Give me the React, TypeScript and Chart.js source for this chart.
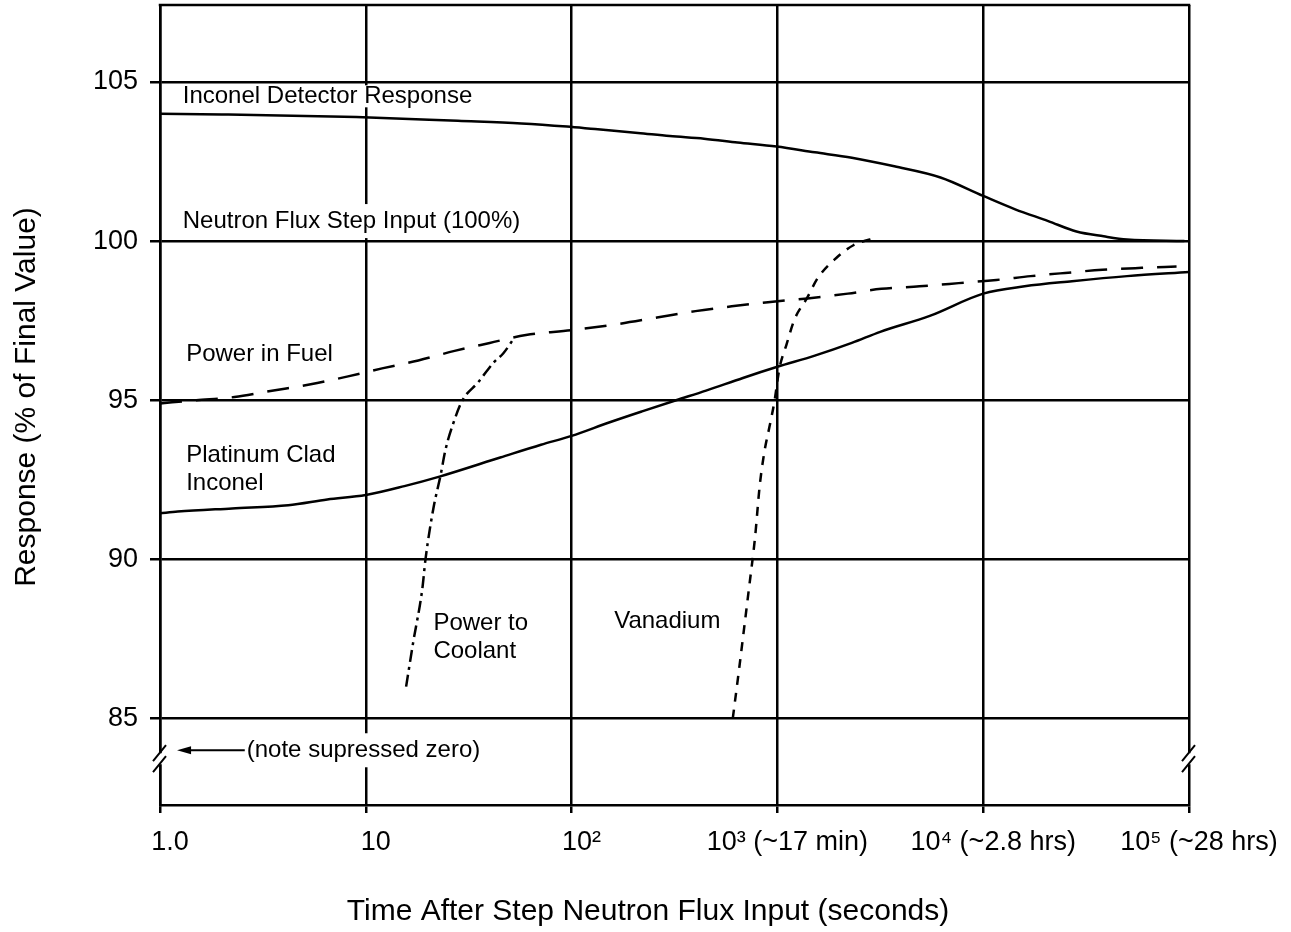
import React, { useEffect, useRef } from "react";
import { Chart, registerables } from "chart.js";

Chart.register(...registerables);

const FONT = '"Liberation Sans", Arial, Helvetica, sans-serif';

// ---- axis ticks ----
const xTickValues = [1, 10, 100, 1000, 10000, 100000];
const xTickLabels = ["1.0", "10", "10²", "10³ (~17 min)", "10⁴ (~2.8 hrs)", "10⁵ (~28 hrs)"];
const yTickValues = [85, 90, 95, 100, 105];

// ---- series (time in seconds, response in % of final value) ----
const inconelTime = [1, 2, 9, 28, 57, 95, 130, 210, 300, 440, 640, 990, 1520, 2300, 3700, 6200, 10000, 14300, 20700, 28400, 38500, 50000, 95000];
const inconelResponse = [104.0, 103.98, 103.9, 103.78, 103.7, 103.6, 103.52, 103.4, 103.3, 103.22, 103.1, 102.97, 102.79, 102.62, 102.35, 102.0, 101.42, 101.0, 100.63, 100.3, 100.15, 100.05, 100.0];

const fuelTime = [1, 1.5, 2.3, 3.5, 5.4, 8.2, 12, 18, 27, 40, 60, 100, 170, 260, 400, 600, 900, 1400, 2200, 3200, 4900, 7600, 11600, 17000, 25000, 38000, 59000, 87000];
const fuelResponse = [94.9, 95.0, 95.1, 95.3, 95.5, 95.75, 96.0, 96.25, 96.55, 96.8, 97.05, 97.2, 97.4, 97.6, 97.8, 97.95, 98.08, 98.2, 98.35, 98.5, 98.58, 98.68, 98.78, 98.9, 99.0, 99.1, 99.16, 99.2];

const platinumTime = [1, 1.22, 2.24, 4.2, 6.5, 10, 15.4, 22.8, 45, 71, 100, 152, 220, 322, 450, 680, 1000, 1520, 2300, 3160, 5500, 10000, 15900, 27000, 50000, 100000];
const platinumResponse = [91.45, 91.5, 91.6, 91.7, 91.88, 92.02, 92.3, 92.6, 93.2, 93.6, 93.88, 94.3, 94.65, 95.0, 95.3, 95.7, 96.05, 96.4, 96.8, 97.15, 97.65, 98.35, 98.58, 98.74, 98.9, 99.03];

const coolantTime = [15.7, 17.0, 18.8, 19.5, 21.3, 23.1, 24.4, 26.7, 29.5, 35, 42, 46.5, 52.5];
const coolantResponse = [86.0, 87.4, 89.05, 90.0, 91.6, 92.65, 93.45, 94.3, 95.0, 95.55, 96.2, 96.47, 96.95];

const vanadiumTime = [607, 650, 688, 728, 779, 820, 863, 914, 967, 1023, 1107, 1213, 1390, 1574, 1932, 2340, 3077];
const vanadiumResponse = [85.0, 86.5, 87.8, 89.1, 90.7, 92.3, 93.35, 94.15, 94.95, 96.0, 96.75, 97.55, 98.2, 98.85, 99.47, 99.87, 100.12];

// ---- text ----
const xTitle = "Time After Step Neutron Flux Input (seconds)";
const yTitle = "Response (% of Final Value)";

const annotations = [
  { lines: ["Inconel Detector Response"], t: 1.29, v: 104.55, box: 11 },
  { lines: ["Neutron Flux Step Input (100%)"], t: 1.29, v: 100.63, box: 17 },
  { lines: ["Power in Fuel"], t: 1.34, v: 96.44, box: 0 },
  { lines: ["Platinum Clad", "Inconel"], t: 1.34, v: 93.28, box: 0 },
  { lines: ["Power to", "Coolant"], t: 21.3, v: 88.0, box: 0 },
  { lines: ["Vanadium"], t: 161, v: 88.04, box: 0 },
  { lines: ["(note supressed zero)"], t: 2.64, v: 84.0, box: 17 },
];
const noteArrowTip = 1.21;
const breakValue = 83.75;

const pair = (t: number[], v: number[]) => t.map((x, i) => ({ x, y: v[i] }));

const overlayPlugin = {
  id: "overlay",
  afterDraw(chart: any) {
    const ctx: CanvasRenderingContext2D = chart.ctx;
    const { left, right, top } = chart.chartArea;
    const xs = chart.scales.x;
    const ys = chart.scales.y;
    ctx.save();
    // top frame
    ctx.strokeStyle = "#000";
    ctx.lineWidth = 2.5;
    ctx.beginPath();
    ctx.moveTo(left - 1.25, top);
    ctx.lineTo(right + 1.25, top);
    ctx.stroke();

    // annotations
    ctx.font = `24px ${FONT}`;
    ctx.textAlign = "left";
    ctx.textBaseline = "middle";
    for (const a of annotations) {
      const px = xs.getPixelForValue(a.t);
      const py = ys.getPixelForValue(a.v);
      a.lines.forEach((line, i) => {
        const y = py + i * 28;
        if (a.box) {
          const w = ctx.measureText(line).width;
          ctx.fillStyle = "#fff";
          ctx.fillRect(px - 3, y - a.box, w + 6, a.box * 2);
        }
        ctx.fillStyle = "#000";
        ctx.fillText(line, px, y);
      });
    }

    // note arrow
    const note = annotations[annotations.length - 1];
    const ay = ys.getPixelForValue(note.v);
    const tipX = xs.getPixelForValue(noteArrowTip);
    const endX = xs.getPixelForValue(note.t) - 2;
    ctx.strokeStyle = "#000";
    ctx.lineWidth = 2;
    ctx.beginPath();
    ctx.moveTo(tipX + 6, ay);
    ctx.lineTo(endX, ay);
    ctx.stroke();
    ctx.fillStyle = "#000";
    ctx.beginPath();
    ctx.moveTo(tipX, ay);
    ctx.lineTo(tipX + 14, ay - 4);
    ctx.lineTo(tipX + 14, ay + 4);
    ctx.closePath();
    ctx.fill();

    // axis breaks
    const by = ys.getPixelForValue(breakValue);
    for (const bx of [left, right]) {
      ctx.fillStyle = "#fff";
      ctx.fillRect(bx - 3, by - 5, 6, 11);
      ctx.strokeStyle = "#000";
      ctx.lineWidth = 2;
      ctx.beginPath();
      ctx.moveTo(bx - 7, by + 3);
      ctx.lineTo(bx + 6, by - 13);
      ctx.moveTo(bx - 7, by + 14);
      ctx.lineTo(bx + 6, by - 2);
      ctx.stroke();
    }

    // axis titles
    ctx.fillStyle = "#000";
    ctx.font = `30px ${FONT}`;
    ctx.textAlign = "center";
    ctx.textBaseline = "middle";
    ctx.fillText(xTitle, 648, 912);
    ctx.save();
    ctx.translate(27, 397);
    ctx.rotate(-Math.PI / 2);
    ctx.fillText(yTitle, 0, 0);
    ctx.restore();

    ctx.restore();
  },
};

export default function App() {
  const canvasRef = useRef<HTMLCanvasElement>(null);
  useEffect(() => {
    const canvas = canvasRef.current;
    if (!canvas) return;
    const line = (label: string, t: number[], v: number[], dash: number[]) => ({
      label,
      data: pair(t, v),
      borderColor: "#000",
      backgroundColor: "#000",
      borderWidth: 2.5,
      borderDash: dash,
      pointRadius: 0,
      fill: false,
      cubicInterpolationMode: "monotone" as const,
    });
    const chart = new Chart(canvas, {
      type: "line",
      data: {
        datasets: [
          line("Inconel Detector Response", inconelTime, inconelResponse, []),
          line("Power in Fuel", fuelTime, fuelResponse, [22, 14]),
          line("Platinum Clad Inconel", platinumTime, platinumResponse, []),
          line("Power to Coolant", coolantTime, coolantResponse, [12, 5, 3, 5]),
          line("Vanadium", vanadiumTime, vanadiumResponse, [9, 8]),
        ],
      },
      options: {
        animation: false,
        responsive: false,
        events: [],
        layout: { padding: { left: 0, top: 5, right: 102, bottom: 0 } },
        plugins: {
          legend: { display: false },
          tooltip: { enabled: false },
          title: { display: false },
        },
        scales: {
          x: {
            type: "logarithmic",
            min: 1,
            max: 100000,
            afterBuildTicks: (s: any) => {
              s.ticks = xTickValues.map((v) => ({ value: v }));
            },
            afterFit: (s: any) => {
              s.height = 127;
              s.paddingLeft = 0;
              s.paddingRight = 0;
              s.paddingTop = 0;
              s.paddingBottom = 0;
            },
            ticks: {
              autoSkip: false,
              maxRotation: 0,
              minRotation: 0,
              padding: 13,
              labelOffset: 10,
              color: "#000",
              font: { family: FONT, size: 27 },
              callback: (v: any) => {
                const i = xTickValues.indexOf(Number(v));
                return i >= 0 ? xTickLabels[i] : "";
              },
            },
            grid: { color: "#000", lineWidth: 2.5, tickLength: 8, drawTicks: true, drawOnChartArea: true },
            border: { display: true, color: "#000", width: 2.5 },
          },
          y: {
            type: "linear",
            min: 82.28,
            max: 107.42,
            afterBuildTicks: (s: any) => {
              s.ticks = yTickValues.map((v) => ({ value: v }));
            },
            afterFit: (s: any) => {
              s.width = 160;
              s.paddingLeft = 0;
              s.paddingRight = 0;
              s.paddingTop = 0;
              s.paddingBottom = 0;
            },
            ticks: {
              padding: 12,
              color: "#000",
              font: { family: FONT, size: 27 },
              callback: (v: any) => String(v),
            },
            grid: { color: "#000", lineWidth: 2.5, tickLength: 10, drawTicks: true, drawOnChartArea: true },
            border: { display: true, color: "#000", width: 2.5 },
          },
        },
      },
      plugins: [overlayPlugin],
    } as any);
    return () => chart.destroy();
  }, []);
  return (
    <div style={{ position: "absolute", left: 0, top: 0, width: 1291, height: 932, background: "#fff" }}>
      <canvas ref={canvasRef} width={1291} height={932} style={{ display: "block" }} />
    </div>
  );
}
